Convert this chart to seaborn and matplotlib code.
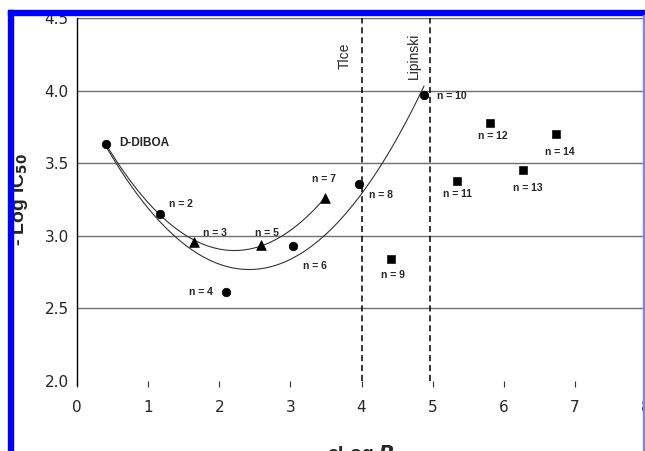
import matplotlib
matplotlib.use("Agg")
import matplotlib.pyplot as plt
from matplotlib.patches import Rectangle
import numpy as np
import pandas as pd
import seaborn as sns

# ----------------------
# Data
# ----------------------
# even n (plus D-DIBOA) -> circles, odd n (plus D-DIBOA) -> triangles, rest -> squares
circle_labels = ["D-DIBOA", "n = 2", "n = 4", "n = 6", "n = 8", "n = 10"]
circle_clogp = [0.41, 1.16, 2.10, 3.03, 3.97, 4.88]
circle_ic50 = [3.63, 3.15, 2.61, 2.93, 3.36, 3.97]

triangle_labels = ["n = 3", "n = 5", "n = 7"]
triangle_clogp = [1.65, 2.58, 3.49]
triangle_ic50 = [2.96, 2.94, 3.26]

square_labels = ["n = 9", "n = 11", "n = 12", "n = 13", "n = 14"]
square_clogp = [4.42, 5.34, 5.81, 6.27, 6.73]
square_ic50 = [2.84, 3.38, 3.78, 3.45, 3.70]

limit_names = ["Tlce", "Lipinski"]
limit_clogp = [4.0, 4.97]

yticks = [2.0, 2.5, 3.0, 3.5, 4.0, 4.5]
xticks = [0, 1, 2, 3, 4, 5, 6, 7, 8]

df_even = pd.DataFrame({"clogp": circle_clogp, "ic50": circle_ic50})
df_odd = pd.DataFrame(
    {"clogp": [circle_clogp[0]] + triangle_clogp, "ic50": [circle_ic50[0]] + triangle_ic50}
)

# label offsets (text position relative to the point, in data units)
circle_offsets = [(0.19, 0.01), (0.14, 0.07), (-0.52, 0.0), (0.15, -0.14), (0.14, -0.08), (0.18, -0.01)]
triangle_offsets = [(0.12, 0.06), (-0.08, 0.08), (-0.18, 0.13)]
square_offsets = [(-0.14, -0.11), (-0.19, -0.09), (-0.17, -0.09), (-0.14, -0.12), (-0.15, -0.12)]

sns.set_style("white")
plt.rcParams["font.family"] = ["Liberation Sans", "DejaVu Sans"]

fig = plt.figure(figsize=(6.45, 4.51), dpi=100)
ax = fig.add_axes([77 / 645, 70 / 451, 569 / 645, 363 / 451])

# horizontal gridlines (none at the bottom)
for yv in yticks[1:]:
    ax.axhline(yv, color="#707070", lw=1.0, zorder=0)

# quadratic trendlines
sns.regplot(data=df_even, x="clogp", y="ic50", order=2, ci=None, scatter=False,
            truncate=True, ax=ax, line_kws={"color": "#333333", "lw": 0.8})
sns.regplot(data=df_odd, x="clogp", y="ic50", order=2, ci=None, scatter=False,
            truncate=True, ax=ax, line_kws={"color": "#333333", "lw": 0.8})

sns.scatterplot(x=circle_clogp, y=circle_ic50, marker="o", s=38, color="black",
                edgecolor="black", ax=ax, zorder=3)
sns.scatterplot(x=triangle_clogp, y=triangle_ic50, marker="^", s=48, color="black",
                edgecolor="black", ax=ax, zorder=3)
sns.scatterplot(x=square_clogp, y=square_ic50, marker="s", s=30, color="black",
                edgecolor="black", ax=ax, zorder=3)

# limit lines
for name, xv in zip(limit_names, limit_clogp):
    ax.axvline(xv, color="black", lw=1.1, ls=(0, (4, 2.5)), ymin=0, ymax=1, zorder=2)
    ax.text(xv - 0.23, 4.24, name, rotation=90, ha="center", va="center", fontsize=10)

# point labels
for lab, x, y, (dx, dy) in zip(circle_labels, circle_clogp, circle_ic50, circle_offsets):
    fs = 8.5 if lab == "D-DIBOA" else 7.5
    ax.text(x + dx, y + dy, lab, ha="left", va="center", fontsize=fs, fontweight="bold")
for lab, x, y, (dx, dy) in zip(triangle_labels, triangle_clogp, triangle_ic50, triangle_offsets):
    ax.text(x + dx, y + dy, lab, ha="left", va="center", fontsize=7.5, fontweight="bold")
for lab, x, y, (dx, dy) in zip(square_labels, square_clogp, square_ic50, square_offsets):
    ax.text(x + dx, y + dy, lab, ha="left", va="center", fontsize=7.5, fontweight="bold")

ax.set_xlim(0, 8)
ax.set_ylim(2.0, 4.5)
ax.set_xticks(xticks)
ax.set_yticks(yticks)
ax.set_yticklabels([f"{v:.1f}" for v in yticks], fontfamily="DejaVu Sans", fontsize=11)
ax.set_xticklabels([str(v) for v in xticks], fontfamily="DejaVu Sans", fontsize=11)
ax.tick_params(axis="x", direction="out", length=4, width=0.8, color="#333333", pad=10, bottom=True)
ax.tick_params(axis="y", length=0, pad=6)

for side in ["top", "right", "bottom"]:
    ax.spines[side].set_visible(False)
ax.spines["left"].set_color("black")
ax.spines["left"].set_linewidth(1.0)
ax.spines["left"].set_bounds(1.97, 4.5)

ax.set_xlabel("cLog $\\bfit{P}$", fontsize=14, fontweight="bold")
ax.xaxis.set_label_coords(0.5, -0.17)
ax.set_ylabel("- Log IC$_{\\mathbf{50}}$", fontsize=14, fontweight="bold")
ax.yaxis.set_label_coords(-0.083, 0.5)

# blue frame around the figure
fig.patches.append(Rectangle((8 / 645, 436 / 451), 637 / 645, 5 / 451,
                             transform=fig.transFigure, color="#0000ff", zorder=10))
fig.patches.append(Rectangle((8 / 645, 0), 5 / 645, 441 / 451,
                             transform=fig.transFigure, color="#0000ff", zorder=10))
fig.patches.append(Rectangle((642.5 / 645, 0), 1.5 / 645, 436 / 451,
                             transform=fig.transFigure, color="#8080ff", zorder=10))

fig.savefig("out.png", dpi=100)
plt.close(fig)
